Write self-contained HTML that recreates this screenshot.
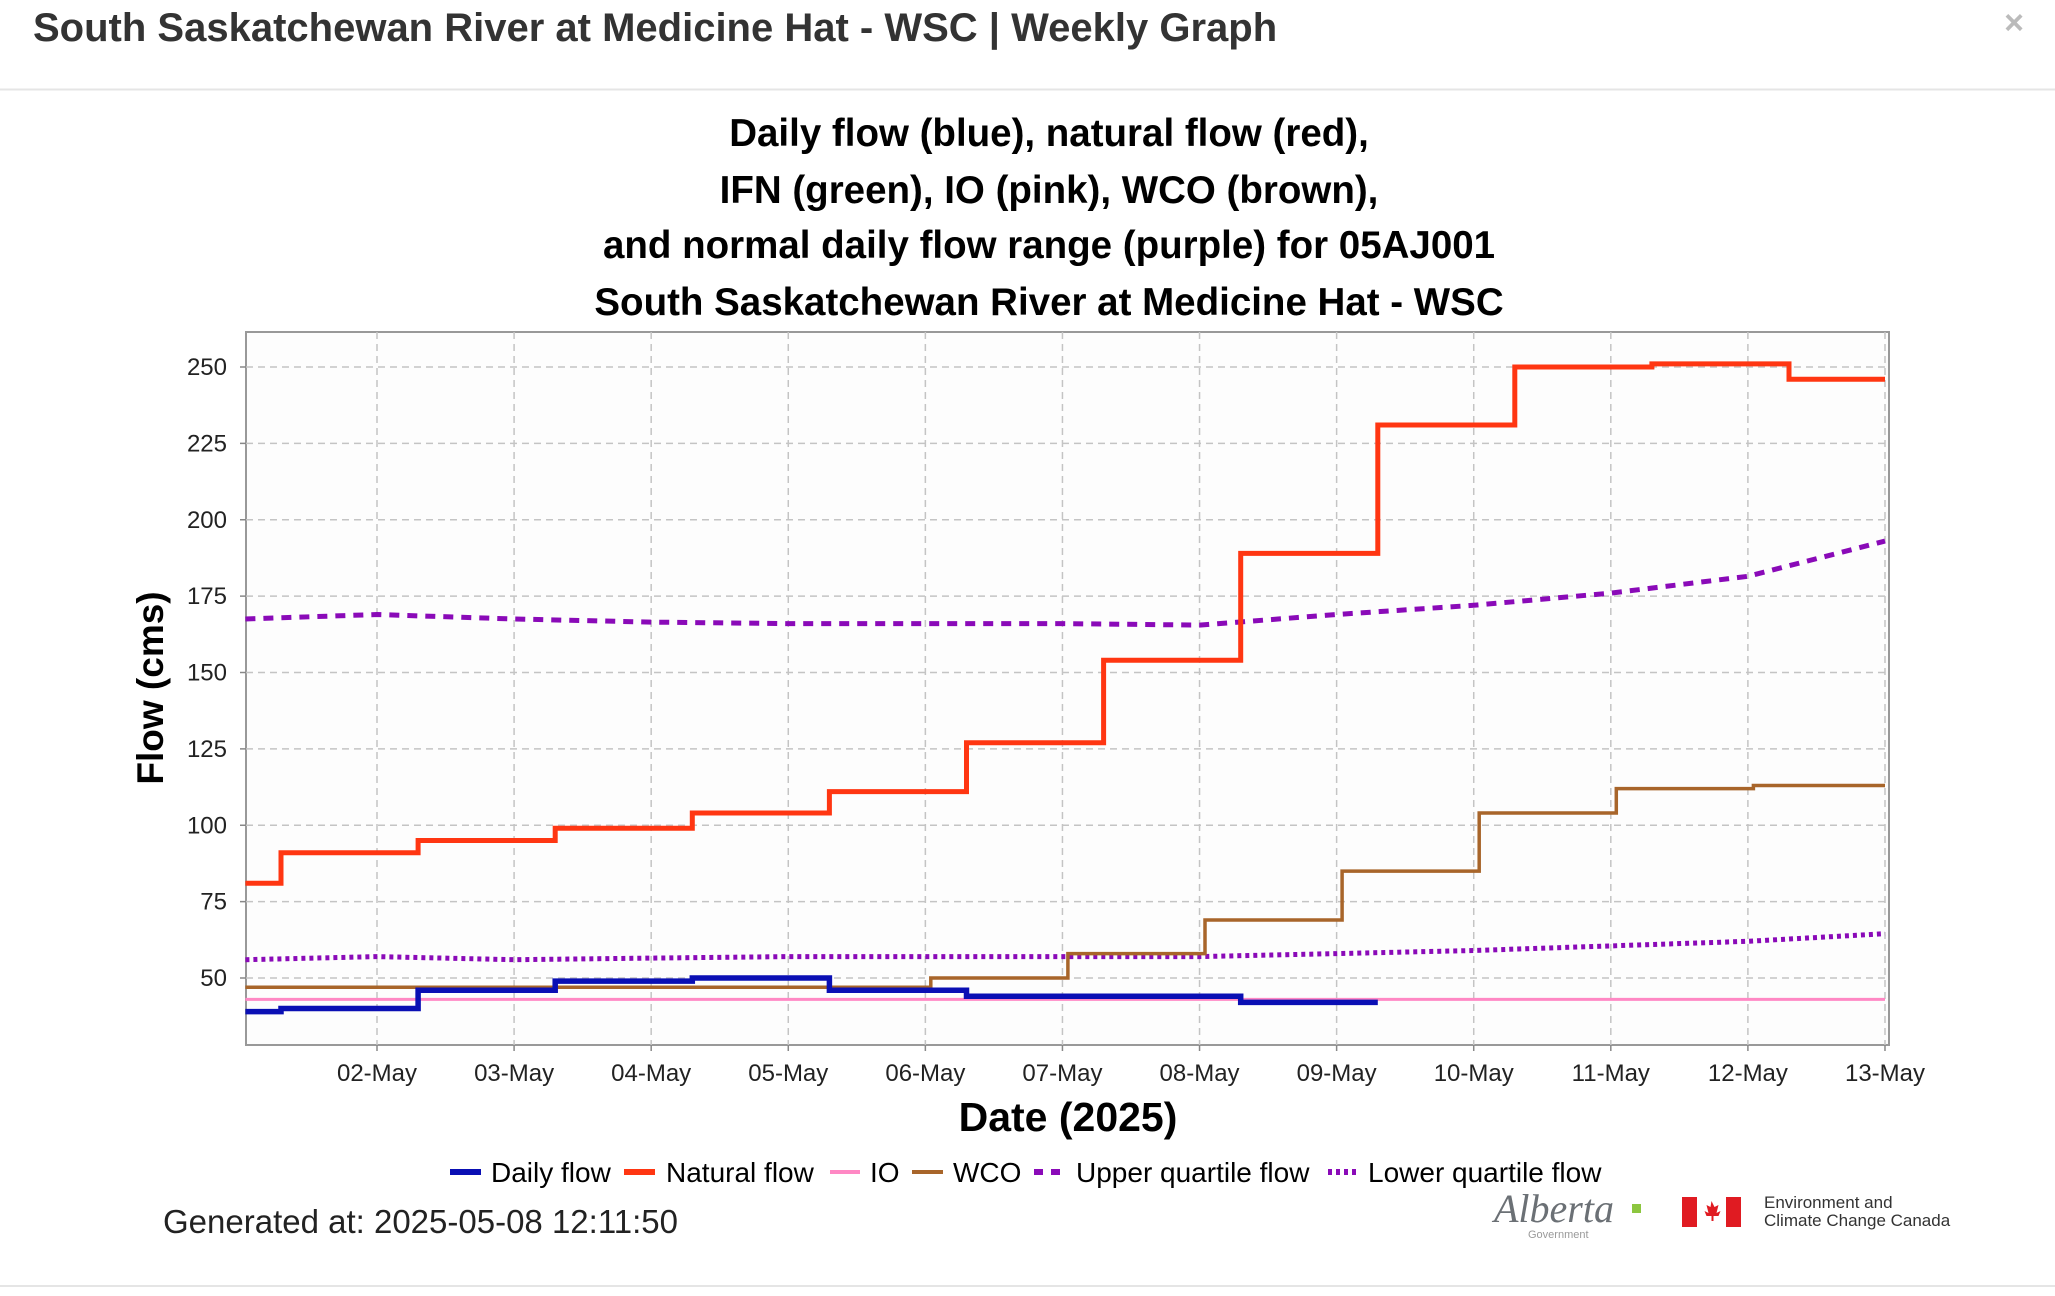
<!DOCTYPE html>
<html><head><meta charset="utf-8"><style>
html,body{margin:0;padding:0;background:#fff;}
body{width:2055px;height:1296px;overflow:hidden;position:relative;font-family:"Liberation Sans",sans-serif;}
</style></head><body>
<svg id="chart" width="2055" height="1296" viewBox="0 0 2055 1296" xmlns="http://www.w3.org/2000/svg" style="position:absolute;left:0;top:0;font-family:'Liberation Sans',sans-serif;">
<text x="33" y="41" font-size="40" font-weight="bold" fill="#333">South Saskatchewan River at Medicine Hat - WSC | Weekly Graph</text>
<text x="2014" y="34" font-size="34" font-weight="bold" fill="#bbb" text-anchor="middle">×</text>
<line x1="0" y1="89.5" x2="2055" y2="89.5" stroke="#e5e5e5" stroke-width="2"/>
<g font-size="38.5" font-weight="bold" fill="#000" text-anchor="middle">
<text x="1049" y="146">Daily flow (blue), natural flow (red),</text>
<text x="1049" y="203">IFN (green), IO (pink), WCO (brown),</text>
<text x="1049" y="258">and normal daily flow range (purple) for 05AJ001</text>
<text x="1049" y="315">South Saskatchewan River at Medicine Hat - WSC</text>
</g>
<rect x="246" y="332" width="1643" height="713" fill="#fdfdfd" stroke="#999" stroke-width="2"/>
<g id="grid"></g>
<g id="axes"></g>
<g id="series"></g>
<text transform="translate(163,688) rotate(-90)" font-size="37" font-weight="bold" text-anchor="middle" fill="#000">Flow (cms)</text>
<text x="1068" y="1131" font-size="41" font-weight="bold" text-anchor="middle" fill="#000">Date (2025)</text>
<g font-size="28" fill="#000">
<g><line x1="450" y1="1172" x2="481" y2="1172" stroke="#0a0fb4" stroke-width="6"/><text x="491" y="1182">Daily flow</text></g>
<g><line x1="624" y1="1172" x2="655" y2="1172" stroke="#ff3612" stroke-width="6"/><text x="666" y="1182">Natural flow</text></g>
<g><line x1="830" y1="1172" x2="860" y2="1172" stroke="#ff88c4" stroke-width="4"/><text x="870" y="1182">IO</text></g>
<g><line x1="912" y1="1172" x2="943" y2="1172" stroke="#a8652a" stroke-width="4"/><text x="953" y="1182">WCO</text></g>
<g><line x1="1034" y1="1172" x2="1066" y2="1172" stroke="#8a0ab8" stroke-width="6" stroke-dasharray="9,8"/><text x="1076" y="1182">Upper quartile flow</text></g>
<g><line x1="1328" y1="1172" x2="1358" y2="1172" stroke="#8a0ab8" stroke-width="6" stroke-dasharray="4,4"/><text x="1368" y="1182">Lower quartile flow</text></g>
</g>
<text x="163" y="1233" font-size="33" fill="#222">Generated at: 2025-05-08 12:11:50</text>
<g>
<text x="1494" y="1222" font-size="40" font-style="italic" font-family="'Liberation Serif',serif" fill="#6b7075">Alberta</text>
<rect x="1632" y="1204" width="9" height="9" fill="#8cc63f"/>
<text x="1528" y="1238" font-size="11" fill="#9a9a9a">Government</text>
</g>
<g>
<rect x="1682" y="1197" width="15" height="30" fill="#e01b22"/>
<rect x="1726" y="1197" width="15" height="30" fill="#e01b22"/>
<path d="M1711.5 1201 l3 6 4-2 -2 8 4-2 -2 5 -5 0 0 5 -2 0 0-5 -5 0 -2-5 4 2 -2-8 4 2z" fill="#e01b22"/>
</g>
<text x="1764" y="1208" font-size="17" fill="#333">Environment and</text>
<text x="1764" y="1226" font-size="17" fill="#333">Climate Change Canada</text>
<line x1="0" y1="1286" x2="2055" y2="1286" stroke="#e5e5e5" stroke-width="2"/>
</svg>
<script>
// ---- data ----
const xTickDays = [2,3,4,5,6,7,8,9,10,11,12,13];
const xTickLabels = ["02-May","03-May","04-May","05-May","06-May","07-May","08-May","09-May","10-May","11-May","12-May","13-May"];
const yTicks = [50,75,100,125,150,175,200,225,250];
const naturalTimes = [1.04,1.3,2.3,3.3,4.3,5.3,6.3,7.3,8.3,9.3,10.3,11.3,12.3];
const naturalValues = [81,91,95,99,104,111,127,154,189,231,250,251,246];
const naturalEnd = 13.0;
const dailyTimes = [1.04,1.3,2.3,3.3,4.3,5.3,6.3,7.3,8.3];
const dailyValues = [39,40,46,49,50,46,44,44,42];
const dailyEnd = 9.3;
const wcoTimes = [1.04,6.04,7.04,8.04,9.04,10.04,11.04,12.04];
const wcoValues = [47,50,58,69,85,104,112,113];
const wcoEnd = 13.0;
const ioTimes = [1.04];
const ioValues = [43];
const ioEnd = 13.0;
const quartileDays = [1.04,2,3,4,5,6,7,8,9,10,11,12,13];
const upperQuartile = [167.5,169,167.5,166.5,166,166,166,165.5,169,172,176,181.5,193];
const lowerQuartile = [56,57,56,56.5,57,57,57,57,58,59,60.5,62,64.5];

// ---- scales ----
const X0 = 246, X1 = 1889, Y0 = 332, Y1 = 1045;
function xs(t){ return 377 + (t - 2) * 137.09; }
function ys(v){ return 978 - (v - 50) * 3.055; }
const NS = "http://www.w3.org/2000/svg";
function mk(tag, attrs, parent){
  const e = document.createElementNS(NS, tag);
  for (const k in attrs) e.setAttribute(k, attrs[k]);
  parent.appendChild(e);
  return e;
}
const grid = document.getElementById('grid');
const axes = document.getElementById('axes');
const series = document.getElementById('series');

yTicks.forEach(function(v){
  const g = mk('line', {x1:X0, x2:X1, y1:ys(v), y2:ys(v), stroke:'#c4c4c4', 'stroke-width':1.5, 'stroke-dasharray':'7,5'}, grid);
  
  
  const tk = mk('line', {x1:X0-6, x2:X0, y1:ys(v), y2:ys(v), stroke:'#888', 'stroke-width':1.5}, axes);
  
  
  const t = mk('text', {x:X0-19, y:ys(v)+8, 'font-size':24, 'text-anchor':'end', fill:'#222'}, axes);
  t.textContent = String(v);
  
  
});
xTickDays.forEach(function(d, i){
  const g = mk('line', {x1:xs(d), x2:xs(d), y1:Y0, y2:Y1, stroke:'#c4c4c4', 'stroke-width':1.5, 'stroke-dasharray':'7,5'}, grid);
  
  
  const tk = mk('line', {x1:xs(d), x2:xs(d), y1:Y1, y2:Y1+6, stroke:'#888', 'stroke-width':1.5}, axes);
  
  
  const t = mk('text', {x:xs(d), y:1081, 'font-size':24, 'text-anchor':'middle', fill:'#222'}, axes);
  t.textContent = xTickLabels[i];
  
  
});

function stepPath(times, vals, end){
  let d = '';
  for (let i = 0; i < times.length; i++){
    const x0 = xs(times[i]);
    const x1 = xs(i + 1 < times.length ? times[i+1] : end);
    d += (i === 0 ? 'M' : 'L') + x0.toFixed(1) + ' ' + ys(vals[i]).toFixed(1) + ' L' + x1.toFixed(1) + ' ' + ys(vals[i]).toFixed(1) + ' ';
  }
  return d;
}
function linePath(days, vals){
  return days.map(function(d, i){ return (i ? 'L' : 'M') + xs(d).toFixed(1) + ' ' + ys(vals[i]).toFixed(1); }).join(' ');
}

const lq = mk('path', {d:linePath(quartileDays, lowerQuartile), fill:'none', stroke:'#8a0ab8', 'stroke-width':5, 'stroke-dasharray':'4,4'}, series);


const uq = mk('path', {d:linePath(quartileDays, upperQuartile), fill:'none', stroke:'#8a0ab8', 'stroke-width':5, 'stroke-dasharray':'10,8'}, series);


const io = mk('path', {d:stepPath(ioTimes, ioValues, ioEnd), fill:'none', stroke:'#ff88c4', 'stroke-width':3}, series);


const wco = mk('path', {d:stepPath(wcoTimes, wcoValues, wcoEnd), fill:'none', stroke:'#a8652a', 'stroke-width':3.5}, series);


const daily = mk('path', {d:stepPath(dailyTimes, dailyValues, dailyEnd), fill:'none', stroke:'#0a0fb4', 'stroke-width':5.5}, series);


const nat = mk('path', {d:stepPath(naturalTimes, naturalValues, naturalEnd), fill:'none', stroke:'#ff3612', 'stroke-width':5}, series);


</script>
</body></html>
